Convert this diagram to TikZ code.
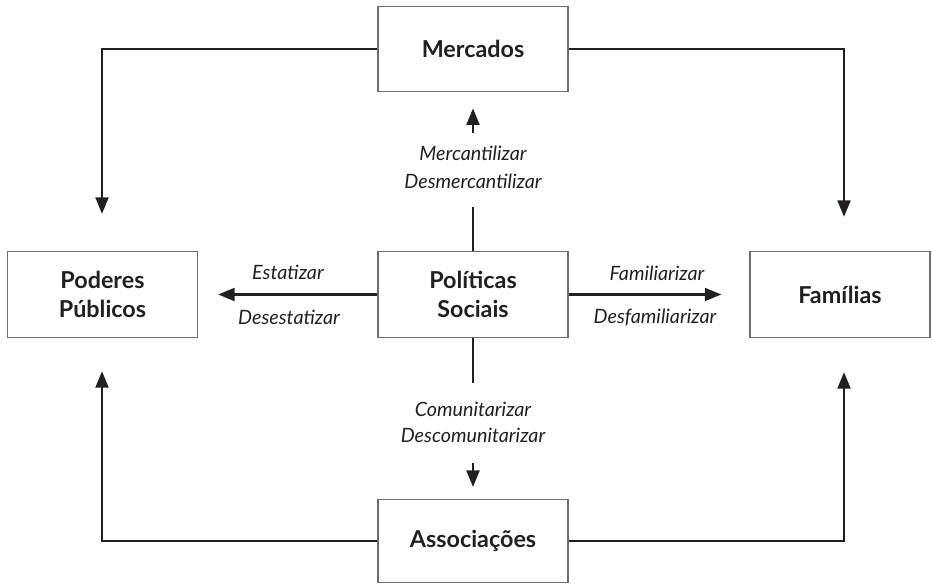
\documentclass[tikz,border=0pt]{standalone}
\usepackage{fontspec}
\setmainfont{Lato}
\usetikzlibrary{arrows.meta}
\definecolor{ink}{HTML}{231F20}
\definecolor{boxline}{HTML}{6D6E71}
\begin{document}
\begin{tikzpicture}[x=0.75pt,y=-0.75pt,
  box/.style={draw=boxline, line width=0.8pt, minimum width=142.5pt, minimum height=64pt,
    align=center, font=\fontsize{17.5}{22}\selectfont\bfseries, text=ink, inner sep=0pt},
  conn/.style={draw=ink, line width=2.2pt},
  arr/.style={conn, -{Triangle[length=12.5pt,width=9.5pt]}},
  lab/.style={font=\fontsize{14.8}{20}\selectfont\itshape, text=ink, inner sep=0pt}]
\useasboundingbox (0,0) rectangle (932,585);
% boxes
\node[box] (merc) at (473,49) {Mercados};
\node[box] (pod) at (102.5,294.5) {Poderes\\Públicos};
\node[box] (pol) at (473,294.5) {Políticas\\Sociais};
\node[box, minimum width=135pt] (fam) at (840,294.5) {Famílias};
\node[box, minimum height=62pt] (asso) at (473,541) {Associações};
% outer connectors
\coordinate (a1) at (102,214);
\coordinate (a2) at (844,217);
\coordinate (a3) at (102,371);
\coordinate (a4) at (844,372);
\draw[arr] (merc.west) -| (a1);
\draw[arr] (merc.east) -| (a2);
\draw[arr] (asso.west) -| (a3);
\draw[arr] (asso.east) -| (a4);
% upward
\coordinate (u1) at (473,207);
\coordinate (u2) at (473,133);
\draw[conn] (pol.north) -- (u1);
\draw[arr, shorten >=12pt] (u2) -- (merc.south);
\node[lab] (mc) at (473,153) {Mercantilizar};
\node[lab] (dmc) at (473,181) {Desmercantilizar};
% downward
\coordinate (d1) at (473,383);
\coordinate (d2) at (473,463);
\draw[conn] (pol.south) -- (d1);
\draw[arr, shorten >=9pt] (d2) -- (asso.north);
\node[lab] (cm) at (473,409) {Comunitarizar};
\node[lab] (dcm) at (473,435) {Descomunitarizar};
% left
\draw[arr, shorten >=15pt] (pol.west) -- (pod.east);
\node[lab] (est) at (288,272) {Estatizar};
\node[lab] (dest) at (289,317) {Desestatizar};
% right
\draw[arr, shorten >=21pt] (pol.east) -- (fam.west);
\node[lab] (fml) at (657,273) {Familiarizar};
\node[lab] (dfml) at (655,317) {Desfamiliarizar};
\end{tikzpicture}
\end{document}
